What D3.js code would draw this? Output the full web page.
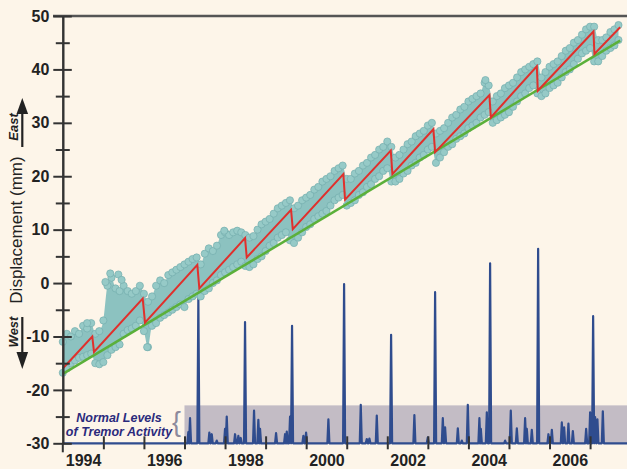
<!DOCTYPE html>
<html><head><meta charset="utf-8">
<script src="https://cdn.jsdelivr.net/npm/d3@7"></script>
<style>body{margin:0;background:#fdf5e9;} svg{display:block;}</style>
</head><body><svg id="c" width="627" height="469"></svg>
<script>
// ---------------- DATA ----------------
const tickYears = [1994,1995,1996,1997,1998,1999,2000,2001,2002,2003,2004,2005,2006,2007];
const labelYears = [1994,1996,1998,2000,2002,2004,2006];
const yMajor = [-30,-20,-10,0,10,20,30,40,50];
const yMinor = [-25,-15,-5,5,15,25,35,45];

const gpsYears = [
1994.0,1994.1,1994.2,1994.3,1994.4,1994.5,1994.6,1994.7,1994.8,1994.9,
1995.0,1995.1,1995.2,1995.3,1995.4,1995.5,1995.6,1995.7,1995.8,1995.9,
1996.0,1996.1,1996.2,1996.3,1996.4,1996.5,1996.6,1996.7,1996.8,1996.9,
1997.0,1997.1,1997.2,1997.3,1997.4,1997.5,1997.6,1997.7,1997.8,1997.9,
1998.0,1998.1,1998.2,1998.3,1998.4,1998.5,1998.6,1998.7,1998.8,1998.9,
1999.0,1999.1,1999.2,1999.3,1999.4,1999.5,1999.6,1999.7,1999.8,1999.9,
2000.0,2000.1,2000.2,2000.3,2000.4,2000.5,2000.6,2000.7,2000.8,2000.9,
2001.0,2001.1,2001.2,2001.3,2001.4,2001.5,2001.6,2001.7,2001.8,2001.9,
2002.0,2002.1,2002.2,2002.3,2002.4,2002.5,2002.6,2002.7,2002.8,2002.9,
2003.0,2003.1,2003.2,2003.3,2003.4,2003.5,2003.6,2003.7,2003.8,2003.9,
2004.0,2004.1,2004.2,2004.3,2004.4,2004.5,2004.6,2004.7,2004.8,2004.9,
2005.0,2005.1,2005.2,2005.3,2005.4,2005.5,2005.6,2005.7,2005.8,2005.9,
2006.0,2006.1,2006.2,2006.3,2006.4,2006.5,2006.6,2006.7,2006.8,2006.9,
2007.0,2007.1,2007.2,2007.3,2007.4,2007.5,2007.6,2007.7];
const gpsHigh = [
-11.0,-9.5,-10.0,-9.0,-9.5,-8.0,-8.5,-7.5,-9.5,-9.0,
-7.0,-0.5,1.0,-1.0,-1.5,-0.5,-1.5,-2.0,-1.5,-0.5,
-2.0,-3.5,-2.5,-0.5,0.5,0.0,1.5,2.0,2.5,3.0,
3.5,4.0,4.5,4.8,3.5,5.5,6.5,6.0,7.0,9.0,
9.5,9.0,9.5,9.8,9.5,9.0,8.5,8.8,10.0,11.0,
11.5,12.0,13.0,14.0,14.5,15.0,15.5,14.0,14.5,15.5,
16.0,16.5,17.5,18.0,19.0,19.5,20.0,21.0,21.5,22.0,
19.5,19.5,20.5,21.0,22.0,22.5,23.5,24.0,25.0,25.5,
26.5,25.5,23.5,24.0,25.0,26.0,26.5,27.5,28.0,28.5,
29.5,30.0,28.0,28.5,29.0,30.0,31.0,31.5,32.5,33.0,
34.0,34.5,35.0,35.5,37.5,37.0,34.0,35.0,35.5,36.5,
37.0,37.5,38.5,39.5,40.0,40.5,41.0,41.5,38.5,39.5,
40.5,41.0,41.5,42.5,43.5,44.0,45.0,45.5,46.5,47.5,
48.0,48.0,45.5,45.5,46.0,47.0,47.5,48.3];
const gpsLow = [
-16.8,-16.0,-15.0,-14.5,-14.0,-13.8,-13.5,-13.2,-15.0,-15.2,
-14.8,-13.5,-12.5,-12.0,-11.5,-9.5,-8.8,-8.5,-8.0,-7.0,
-9.0,-12.0,-8.0,-7.5,-6.5,-6.0,-5.5,-5.0,-4.5,-4.0,
-4.5,-3.0,-2.5,-2.0,-2.5,-1.5,-1.0,0.0,0.5,1.5,
2.0,2.5,3.0,3.5,4.0,3.2,3.0,3.5,4.5,5.0,
6.0,7.0,7.5,8.5,9.0,9.5,8.0,7.5,8.5,9.5,
10.5,11.0,12.0,12.5,13.0,13.5,14.5,15.5,16.0,16.5,
14.5,15.0,15.5,16.5,17.0,18.0,18.5,19.5,20.0,21.0,
21.5,19.0,19.0,19.5,20.5,21.0,22.0,22.5,23.5,24.0,
25.0,25.5,22.5,23.5,24.5,25.5,26.0,27.0,27.5,28.0,
29.0,29.5,30.0,31.0,31.5,32.0,30.0,30.5,31.0,31.5,
32.0,33.0,34.0,35.0,35.5,36.5,37.0,35.5,35.0,35.5,
36.5,37.0,37.5,38.5,39.5,40.0,41.0,42.0,43.0,43.5,
44.0,41.5,41.5,42.5,43.5,44.0,44.5,45.5];
const gpsOutlierYears  = [1994.6, 1995.05, 1995.17, 1995.37, 1995.45, 1996.08, 1997.98, 2004.42];
const gpsOutlierValues = [-7.5,   0.2,     1.8,     1.6,     0.6,     -12.0,   9.8,     38.0];

const sawYears  = [1994.0,1994.727,1994.769,1995.970,1996.027,1997.317,1997.366,1998.493,1998.535,1999.628,1999.670,2000.917,2000.959,2002.086,2002.126,2003.137,2003.179,2004.518,2004.553,2005.687,2005.711,2007.083,2007.107,2007.741];
const sawValues = [-16.0,-10.0,-12.9,-2.9,-7.4,3.4,-1.0,8.4,4.8,13.7,10.1,20.4,15.6,24.8,20.4,28.8,24.5,35.2,31.0,40.6,36.0,47.1,42.9,47.9];

const trendYears  = [1994.0, 2007.741];
const trendValues = [-17.0, 45.4];

const tremorYears = [1997.095,1997.137,1997.342,1997.613,1997.672,1997.795,1998.000,1998.042,1998.247,1998.328,1998.387,1998.493,1998.715,1998.821,1998.863,1999.258,1999.480,1999.522,1999.603,1999.652,1999.931,1999.998,2000.548,2000.935,2001.346,2001.494,2001.559,2001.741,2002.094,2002.668,2002.999,2003.179,2003.369,2003.425,2003.739,2003.837,2003.985,2004.271,2004.306,2004.454,2004.535,2004.905,2005.045,2005.194,2005.398,2005.440,2005.563,2005.719,2005.973,2006.057,2006.303,2006.360,2006.466,2006.575,2006.903,2007.001,2007.075,2007.124,2007.181,2007.314];
const tremorValues = [-27.9,-25.3,-2.8,-28.0,-28.3,-29.5,-27.3,-25.0,-28.3,-28.6,-29.0,-7.3,-23.9,-25.6,-27.3,-28.1,-28.3,-27.8,-25.0,-8.0,-28.6,-28.0,-25.5,-0.2,-22.8,-29.2,-29.1,-24.8,-9.7,-24.7,-28.9,-1.7,-25.3,-27.0,-27.2,-29.5,-22.8,-25.3,-27.3,-24.2,3.7,-29.5,-23.9,-27.2,-25.3,-27.3,-27.5,6.4,-28.3,-27.5,-26.1,-27.0,-26.3,-27.7,-27.3,-24.2,-6.2,-25.1,-25.5,-24.0];
const tremorBaseline = -30;
const normalBand = [-30, -22.9];
const normalStartYear = 1997.0;

// ---------------- DRAW ----------------
const W = 627, H = 469;
const svg = d3.select('#c');
const FONT = '"Liberation Sans", Arial, sans-serif';
const x = d3.scaleLinear().domain([1994, 2007.91]).range([62.8, 627]);
const y = d3.scaleLinear().domain([-30, 50]).range([443.3, 16]);

svg.append('rect').attr('width', W).attr('height', H).attr('fill', '#fdf5e9');

// normal-levels band
svg.append('rect')
  .attr('x', x(normalStartYear)).attr('y', y(normalBand[1]))
  .attr('width', W - x(normalStartYear)).attr('height', y(normalBand[0]) - y(normalBand[1]))
  .attr('fill', '#c3bcc5');

// tremor
const hw = 0.025;
const tPts = [[x.domain()[0], tremorBaseline]];
tremorYears.forEach((t, i) => {
  tPts.push([t - hw, tremorBaseline], [t, tremorValues[i]], [t + hw, tremorBaseline]);
});
tPts.push([x.domain()[1], tremorBaseline]);
svg.append('path').attr('d', d3.line().x(d => x(d[0])).y(d => y(d[1]))(tPts))
  .attr('fill', 'none').attr('stroke', '#2f4c8e').attr('stroke-width', 2.2)
  .attr('stroke-linejoin', 'round');

// GPS cloud
const gps = gpsYears.map((t, i) => ({t, hi: gpsHigh[i], lo: gpsLow[i]}));
svg.append('path').datum(gps)
  .attr('d', d3.area().x(d => x(d.t)).y0(d => y(d.lo)).y1(d => y(d.hi)).curve(d3.curveMonotoneX))
  .attr('fill', '#8cc2c0');
const dots = [];
gps.forEach(d => { dots.push([d.t, d.hi], [d.t, d.lo]); });
gpsOutlierYears.forEach((t, i) => dots.push([t, gpsOutlierValues[i]]));
svg.append('g').selectAll('circle').data(dots).join('circle')
  .attr('cx', d => x(d[0])).attr('cy', d => y(d[1])).attr('r', 3.6)
  .attr('fill', '#96cac7').attr('stroke', '#74aeae').attr('stroke-width', 0.7);

// trend line
svg.append('path').attr('d', d3.line().x(d => x(d[0])).y(d => y(d[1]))(trendYears.map((t, i) => [t, trendValues[i]])))
  .attr('fill', 'none').attr('stroke', '#5bb03a').attr('stroke-width', 2.5);
// sawtooth
svg.append('path').attr('d', d3.line().x(d => x(d[0])).y(d => y(d[1]))(sawYears.map((t, i) => [t, sawValues[i]])))
  .attr('fill', 'none').attr('stroke', '#e0302c').attr('stroke-width', 2).attr('stroke-linejoin', 'miter');

// top frame line
svg.append('line').attr('x1', 53).attr('x2', W).attr('y1', y(50)).attr('y2', y(50))
  .attr('stroke', '#555').attr('stroke-width', 2.5);

// Y axis
const axStyle = g => { g.selectAll('line,path').attr('stroke', '#333').attr('stroke-width', 2); g.selectAll('text').attr('font-family', FONT).attr('font-weight', 'bold').attr('font-size', 16).attr('fill', '#222'); };
svg.append('g').attr('transform', `translate(${x(1994)},0)`)
  .call(d3.axisLeft(y).tickValues(yMajor).tickSize(9.5).tickSizeOuter(0).tickPadding(4).tickFormat(d => String(d)))
  .call(axStyle);
svg.append('g').attr('transform', `translate(${x(1994)},0)`)
  .call(d3.axisRight(y).tickValues(yMajor).tickSize(9).tickSizeOuter(0).tickFormat(''))
  .call(axStyle);
svg.append('g').attr('transform', `translate(${x(1994)},0)`)
  .call(d3.axisLeft(y).tickValues(yMinor).tickSize(7).tickSizeOuter(0).tickFormat(''))
  .call(axStyle).call(g => g.select('.domain').remove());
svg.append('g').attr('transform', `translate(${x(1994)},0)`)
  .call(d3.axisRight(y).tickValues(yMinor).tickSize(7).tickSizeOuter(0).tickFormat(''))
  .call(axStyle).call(g => g.select('.domain').remove());
svg.append('line').attr('x1', x(1994)).attr('x2', x(1994)).attr('y1', y(-30)).attr('y2', y(-30) + 9)
  .attr('stroke', '#333').attr('stroke-width', 2);

// X axis ticks
const xb = y(tremorBaseline);
svg.append('g').attr('transform', `translate(0,${xb})`)
  .call(d3.axisBottom(x).tickValues(tickYears.slice(1)).tickSize(6).tickFormat(''))
  .call(axStyle).call(g => g.select('.domain').remove());
svg.append('g').attr('transform', `translate(0,${xb})`)
  .call(d3.axisTop(x).tickValues(tickYears.slice(1)).tickSize(7).tickFormat(''))
  .call(axStyle).call(g => g.select('.domain').remove());
// X labels centred in each labelled year
svg.append('g').attr('transform', `translate(0,${xb})`)
  .call(d3.axisBottom(x).tickValues(labelYears.map(v => v + 0.5)).tickSize(0).tickPadding(11).tickFormat(d => String(Math.floor(d))))
  .call(axStyle).call(g => g.select('.domain').remove());

// Normal levels label
const nl = svg.append('g').attr('font-family', FONT).attr('font-weight', 'bold').attr('font-style', 'italic')
  .attr('font-size', 12.5).attr('fill', '#2b2a7c').attr('text-anchor', 'middle');
nl.append('text').attr('x', 119).attr('y', 421.5).text('Normal Levels');
nl.append('text').attr('x', 119).attr('y', 435.5).text('of Tremor Activity');
svg.append('text').attr('x', 176.5).attr('y', 431).attr('font-family', FONT).attr('font-size', 27)
  .attr('fill', '#8d8a9c').attr('text-anchor', 'middle').attr('font-weight', 'normal').text('{');

// Y title
svg.append('text').attr('transform', 'translate(21.5,230) rotate(-90)')
  .attr('font-family', FONT).attr('font-size', 17).attr('fill', '#222').attr('text-anchor', 'middle')
  .text('Displacement (mm)');
svg.append('text').attr('transform', 'translate(18,127) rotate(-90)')
  .attr('font-family', FONT).attr('font-size', 13).attr('font-weight', 'bold').attr('font-style', 'italic')
  .attr('fill', '#222').attr('text-anchor', 'middle').text('East');
svg.append('text').attr('transform', 'translate(18,332) rotate(-90)')
  .attr('font-family', FONT).attr('font-size', 13).attr('font-weight', 'bold').attr('font-style', 'italic')
  .attr('fill', '#222').attr('text-anchor', 'middle').text('West');
// arrows
svg.append('line').attr('x1', 22.3).attr('x2', 22.3).attr('y1', 147).attr('y2', 110).attr('stroke', '#222').attr('stroke-width', 2.2);
svg.append('path').attr('d', 'M22.3,98 L16.5,114 L28.1,114 Z').attr('fill', '#222');
svg.append('line').attr('x1', 22.3).attr('x2', 22.3).attr('y1', 317).attr('y2', 355).attr('stroke', '#222').attr('stroke-width', 2.2);
svg.append('path').attr('d', 'M22.3,369 L16.5,352 L28.1,352 Z').attr('fill', '#222');
</script></body></html>
